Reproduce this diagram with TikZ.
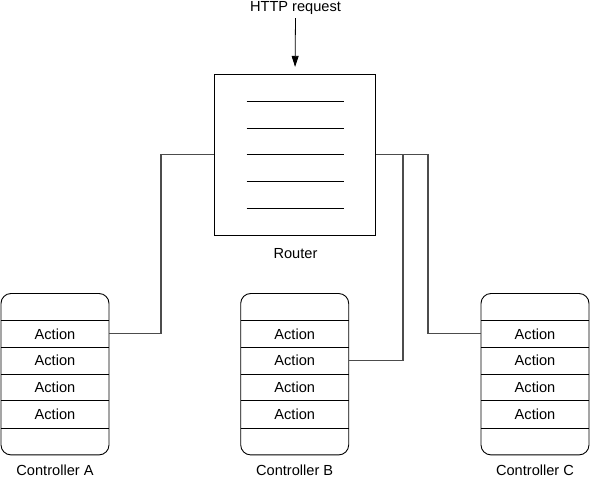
\documentclass[tikz,border=0pt]{standalone}
\usepackage{fontspec}
\setmainfont{Liberation Sans}
\usetikzlibrary{arrows.meta,calc}
\begin{document}
\begin{tikzpicture}[x=1pt,y=-1pt,font=\fontsize{14.6}{17}\selectfont,
  box/.style={draw,line width=.9pt},
  ctrl/.style={box,rounded corners=10pt,minimum width=108pt,minimum height=161.4pt},
  act/.style={minimum width=108pt,minimum height=26.9pt,inner sep=0pt},
  wire/.style={draw=black!70,line width=1.1pt}]
\useasboundingbox(0,0)rectangle(590,477);
% router with its table
\node[box,minimum width=160.6pt,minimum height=161pt](router)at(295,154.8){};
\foreach\i in{-2,...,2}\draw[line width=.9pt]($(router)+(-48.5,26.8*\i)$)--+(97,0);
\node[anchor=base](rlabel)at(295.5,258){Router};
\node[anchor=base](req)at(295.5,11.5){HTTP request};
\draw[line width=.8pt,-{Triangle[length=11pt,width=7pt]},shorten >=7pt](req.south)--(router.north);
% controllers
\foreach\nm/\x in{A/55,B/294.7,C/535}{
\node[ctrl](\nm)at(\x,374.2){};
\foreach\i in{1,...,4}{\node[act](\nm\i)at(\x,{374.2+(\i-2.5)*26.9}){Action};\draw[line width=.9pt](\nm\i.north west)--(\nm\i.north east);}
\draw[line width=.9pt](\nm4.south west)--(\nm4.south east);
\node[anchor=base,inner sep=1pt](l\nm)at(\x,475){Controller \nm};
}
% routes
\coordinate(ja)at(161,250);\coordinate(jb)at(403,250);\coordinate(jc)at(428,250);
\draw[wire](A1.east)-|(ja)|-(router.west);
\draw[wire](B2.east)-|(jb)|-(router.east);
\draw[wire](C1.west)-|(jc)|-(router.east);
\end{tikzpicture}
\end{document}
